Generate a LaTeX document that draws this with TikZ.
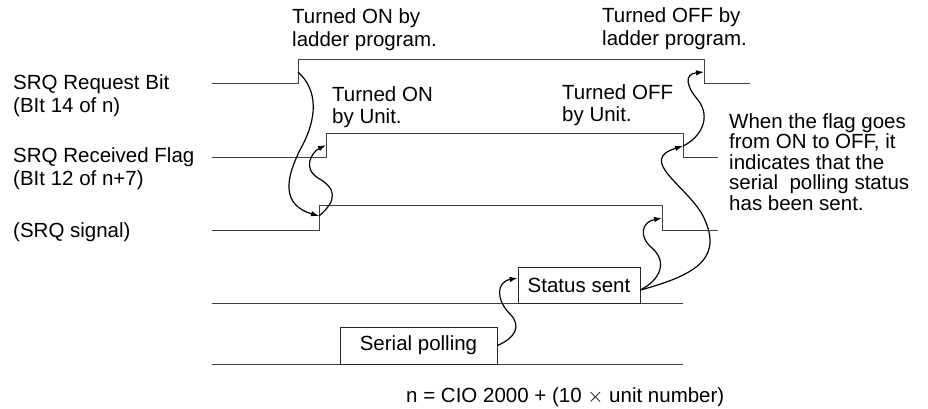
\documentclass[tikz,border=0pt]{standalone}
\usepackage{fontspec}
\setmainfont{Liberation Sans}
\usetikzlibrary{arrows.meta}

\begin{document}
\begin{tikzpicture}[
  x=1pt, y=-1pt,
  font=\fontsize{20.5}{23.5}\selectfont,
  sig/.style={draw=black!75, line width=0.8pt},
  lbl/.style={anchor=north west, inner sep=0pt, align=left},
  box/.style={draw=black!85, line width=0.8pt, inner sep=0pt},
  ar/.style={line width=1.2pt, -{Latex[length=8pt,width=5.5pt]}}
]
\useasboundingbox (0,0) rectangle (928,408);

% ================= signal names =================
\node[lbl] (reqLbl) at (13, 74)  {SRQ Request Bit\\(BIt 14 of n)};
\node[lbl] (rcvLbl) at (13, 147) {SRQ Received Flag\\(BIt 12 of n+7)};
\node[lbl] (srqLbl) at (13, 222) {(SRQ signal)};

% ================= timing lines =================
\draw[sig] (212, 83) -- (298, 83) -- (298, 59) -- (704, 59) -- (704, 83) -- (750, 83);
\draw[sig] (212,157) -- (326,157) -- (326,133) -- (683,133) -- (683,157) -- (718,157);
\draw[sig] (212,230) -- (319,230) -- (319,205) -- (662,205) -- (662,230) -- (718,230);
\draw[sig] (212,303) -- (683,303);
\draw[sig] (212,364) -- (683,364);

% edge points
\coordinate (reqRise) at (298, 72);
\coordinate (reqFall) at (704, 72);
\coordinate (rcvRise) at (326,145);
\coordinate (rcvFall) at (683,146);
\coordinate (srqRise) at (319,216);
\coordinate (srqFall) at (662,218);

% ================= boxes =================
\node[box, minimum width=122pt, minimum height=36pt] (stat) at (579,285) {Status sent};
\node[box, minimum width=157pt, minimum height=37pt] (poll) at (418.5,345.5) {Serial polling};

% ================= remarks =================
\node[lbl] (onLad)   at (292, 8)  {Turned ON by\\ladder program.};
\node[lbl] (offLad)  at (602, 7)  {Turned OFF by\\ladder program.};
\node[lbl, font=\fontsize{20.5}{22}\selectfont] (onUnit)  at (332, 86) {Turned ON\\by Unit.};
\node[lbl, font=\fontsize{20.5}{22}\selectfont] (offUnit) at (562, 84) {Turned OFF\\by Unit.};
\node[lbl, font=\fontsize{20.5}{20.5}\selectfont] (note) at (729, 113)
  {When the flag goes\\from ON to OFF, it\\indicates that the\\serial\ \ polling status\\has been sent.};

\node[anchor=base west, inner sep=0pt] (foot) at (406, 402)
  {n = CIO 2000 + (10 $\times$ unit number)};

% ================= causes =================
\draw[ar] (reqRise) .. controls (318, 90) and (318,118) .. (300,150)
                    .. controls (285,180) and (282,205) .. (srqRise);
\draw[ar] (srqRise) .. controls (338,200) and (336,188) .. (318,178)
                    .. controls (302,168) and (312,152) .. (rcvRise);
\draw[ar] (poll.east) .. controls (515,338) and (522,326) .. (510,314)
                      .. controls (496,300) and (496,282) .. ([yshift=7pt]stat.west);
\draw[ar] ([yshift=-5pt]stat.east) .. controls (660,280) and (668,262) .. (652,248)
                                   .. controls (638,236) and (642,222) .. (srqFall);
\draw[ar] ([yshift=-5pt]stat.east) .. controls (700,274) and (724,256) .. (702,214)
                                   .. controls (684,184) and (638,160) .. (rcvFall);
\draw[ar] (rcvFall) .. controls (700,138) and (712,118) .. (698,100)
                    .. controls (686,86) and (684,74) .. (reqFall);

\end{tikzpicture}
\end{document}
